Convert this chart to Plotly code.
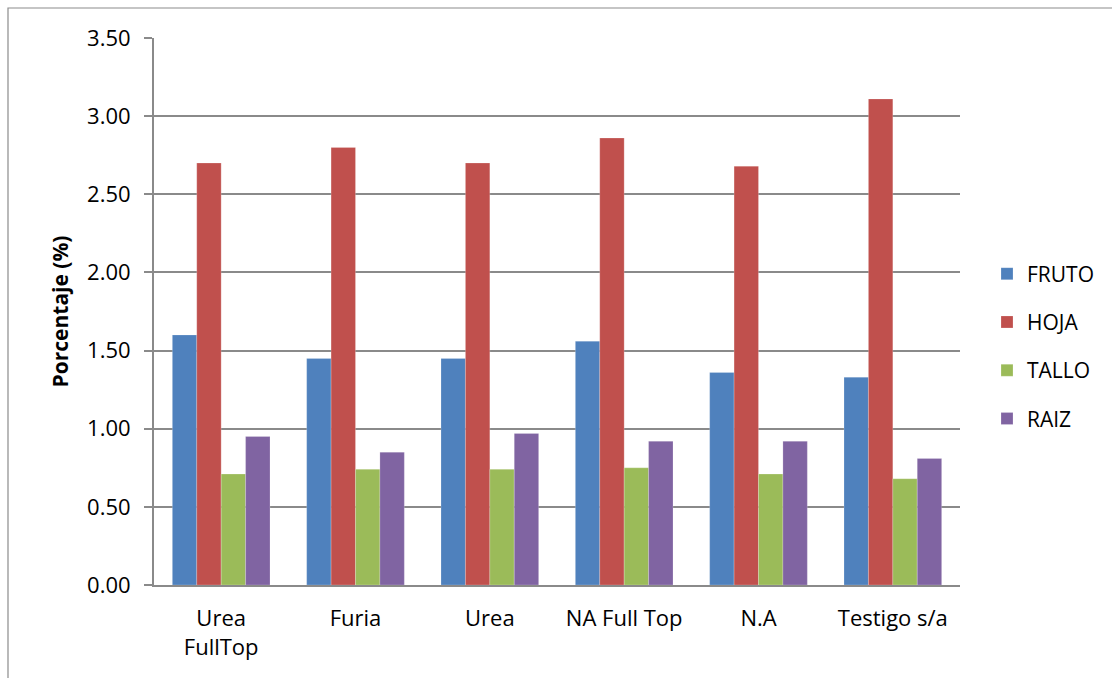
import plotly.graph_objects as go

categories = ["Urea<br>FullTop", "Furia", "Urea", "NA Full Top", "N.A", "Testigo s/a"]
fruto = [1.60, 1.45, 1.45, 1.56, 1.36, 1.33]
hoja = [2.70, 2.80, 2.70, 2.86, 2.68, 3.11]
tallo = [0.71, 0.74, 0.74, 0.75, 0.71, 0.68]
raiz = [0.95, 0.85, 0.97, 0.92, 0.92, 0.81]

series = [
    ("FRUTO", fruto, "#4F81BD"),
    ("HOJA", hoja, "#C0504D"),
    ("TALLO", tallo, "#9BBB59"),
    ("RAIZ", raiz, "#8064A2"),
]

FONT = "'Open Sans', Carlito, 'Liberation Sans', sans-serif"
GRID = "#8a8a8a"

fig = go.Figure()
for name, vals, color in series:
    fig.add_trace(go.Bar(
        x=categories, y=vals, name=name, legendgroup=name,
        marker=dict(color=color, line=dict(color="rgba(255,255,255,0.35)", width=0.6)),
    ))

W, H = 1112, 678
L, R, T, B = 154, 152, 38, 93
pw, ph = W - L - R, H - T - B

# outer frame of the chart area (top and left edges visible)
fx = (8 - L) / pw
fy = (H - B - 8) / ph
fig.add_shape(type="rect", xref="paper", yref="paper",
              x0=fx, y0=-0.6, x1=1.5, y1=fy,
              line=dict(color="#8c8c8c", width=1.2), fillcolor="rgba(0,0,0,0)", layer="below")

fig.update_layout(
    width=W, height=H,
    margin=dict(l=L, r=R, t=T, b=B),
    paper_bgcolor="white", plot_bgcolor="white",
    barmode="group", bargap=0.273, bargroupgap=0,
    font=dict(family=FONT, size=21, color="#000000"),
    showlegend=True,
    legend=dict(x=(987 - L) / pw, y=(H - B - 346.5) / ph, xanchor="left", yanchor="middle",
                font=dict(family=FONT, size=21, color="#000000"),
                tracegroupgap=18, itemwidth=30, bgcolor="rgba(0,0,0,0)"),
    xaxis=dict(showgrid=False, showline=True, linecolor=GRID, linewidth=2,
               ticks="", tickfont=dict(family=FONT, size=22), ticklabelstandoff=13),
    yaxis=dict(range=[0, 3.5], dtick=0.5, tickformat=".2f",
               showgrid=True, gridcolor=GRID, gridwidth=1.6,
               showline=True, linecolor=GRID, linewidth=2,
               ticks="outside", ticklen=8, tickcolor=GRID, tickwidth=1.6,
               zeroline=False, ticklabelstandoff=9,
               tickfont=dict(family=FONT, size=22),
               title=dict(text="<b>Porcentaje (%)</b>", font=dict(family=FONT, size=21), standoff=13)),
)

fig.write_html("out.html")
